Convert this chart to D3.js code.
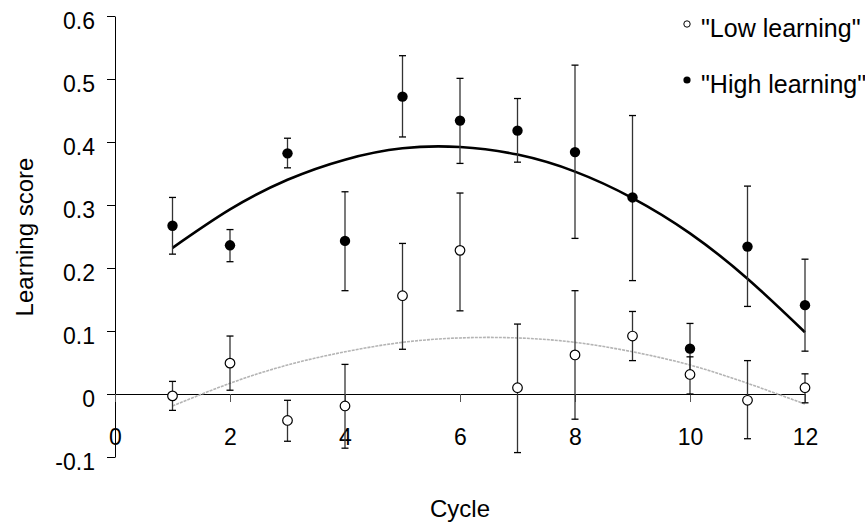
<!DOCTYPE html>
<html>
<head>
<meta charset="utf-8">
<script src="https://cdn.jsdelivr.net/npm/d3@7"></script>
<style>
  body { margin: 0; background: #fff; }
  text { font-family: "Liberation Sans", Arial, sans-serif; fill: #000; }
</style>
</head>
<body>
<svg width="865" height="522"></svg>
<script>
'use strict';

const cycles = [1, 2, 3, 4, 5, 6, 7, 8, 9, 10, 11, 12];

// "High learning" group: means and error bar ends
const high_mean = [0.267, 0.236, 0.382, 0.243, 0.472, 0.434, 0.418, 0.384, 0.312, 0.072, 0.234, 0.141];
const high_upper = [0.312, 0.261, 0.406, 0.321, 0.537, 0.501, 0.469, 0.522, 0.442, 0.112, 0.330, 0.214];
const high_lower = [0.222, 0.210, 0.359, 0.164, 0.408, 0.366, 0.368, 0.247, 0.180, 0.032, 0.139, 0.068];

// "Low learning" group
const low_mean = [-0.003, 0.049, -0.042, -0.019, 0.156, 0.228, 0.010, 0.062, 0.092, 0.031, -0.010, 0.010];
const low_upper = [0.020, 0.092, -0.010, 0.047, 0.239, 0.319, 0.111, 0.164, 0.131, 0.059, 0.053, 0.032];
const low_lower = [-0.026, 0.006, -0.075, -0.086, 0.071, 0.132, -0.093, -0.040, 0.053, 0.000, -0.071, -0.014];

// trend curves at each cycle
const high_fit = [0.232, 0.293, 0.340, 0.372, 0.390, 0.392, 0.380, 0.353, 0.311, 0.255, 0.183, 0.098];
const low_fit = [-0.019, 0.017, 0.046, 0.067, 0.082, 0.089, 0.089, 0.082, 0.067, 0.046, 0.017, -0.016];

const x_ticks = [0, 2, 4, 6, 8, 10, 12];
const y_ticks = [-0.1, 0, 0.1, 0.2, 0.3, 0.4, 0.5, 0.6];

const series_names = ['"Low learning"', '"High learning"'];

const svg = d3.select('svg');

const x = d3.scaleLinear().domain([0, 12]).range([115, 805]);
const y = d3.scaleLinear().domain([-0.1, 0.6]).range([457, 16]);

// y axis
const y_axis = svg.append('g')
  .attr('transform', `translate(${x(0)},0)`)
  .call(d3.axisLeft(y).tickValues(y_ticks).tickSize(8).tickSizeOuter(0)
    .tickFormat(d => d === 0 ? '0' : String(d)));
y_axis.select('.domain').attr('stroke', '#000');
y_axis.selectAll('.tick line').attr('stroke', '#000');
y_axis.selectAll('.tick text')
  .attr('x', -20)
  .attr('dy', 12)
  .style('font-size', '23px')
  .style('font-family', '"Liberation Sans", Arial, sans-serif');

// x axis sits on zero
const x_axis = svg.append('g')
  .attr('transform', `translate(0,${y(0)})`)
  .call(d3.axisBottom(x).tickValues(x_ticks).tickSize(8).tickSizeOuter(0));
x_axis.select('.domain').attr('stroke', '#000');
x_axis.selectAll('.tick line').attr('stroke', '#555');
x_axis.selectAll('.tick text')
  .attr('y', 51)
  .attr('dy', null)
  .style('font-size', '23px')
  .style('font-family', '"Liberation Sans", Arial, sans-serif');

// axis titles
svg.append('text')
  .attr('x', 460).attr('y', 517)
  .attr('text-anchor', 'middle')
  .style('font-size', '24px')
  .text('Cycle');

svg.append('text')
  .attr('transform', 'translate(33,237) rotate(-90)')
  .attr('text-anchor', 'middle')
  .style('font-size', '24px')
  .text('Learning score');

// trend curves
const line = d3.line()
  .x((d, i) => x(cycles[i]))
  .y(d => y(d))
  .curve(d3.curveNatural);

svg.append('path')
  .datum(low_fit)
  .attr('d', line)
  .attr('fill', 'none')
  .attr('stroke', '#b4b4b4')
  .attr('stroke-width', 1.6)
  .attr('stroke-dasharray', '3,1');

svg.append('path')
  .datum(high_fit)
  .attr('d', line)
  .attr('fill', 'none')
  .attr('stroke', '#000')
  .attr('stroke-width', 2.6);

function draw_errors(lower, upper) {
  const g = svg.append('g').attr('stroke', '#333').attr('stroke-width', 1.3);
  cycles.forEach((c, i) => {
    const cx = x(c);
    g.append('line')
      .attr('x1', cx).attr('x2', cx)
      .attr('y1', y(lower[i])).attr('y2', y(upper[i]));
    for (const v of [lower[i], upper[i]]) {
      g.append('line')
        .attr('x1', cx - 3.5).attr('x2', cx + 3.5)
        .attr('y1', y(v)).attr('y2', y(v))
        .attr('stroke', '#000');
    }
  });
}

draw_errors(high_lower, high_upper);
draw_errors(low_lower, low_upper);

function draw_points(values, filled) {
  svg.append('g').selectAll('circle')
    .data(values)
    .join('circle')
    .attr('cx', (d, i) => x(cycles[i]))
    .attr('cy', d => y(d))
    .attr('r', filled ? 5.2 : 4.8)
    .attr('fill', filled ? '#000' : '#fff')
    .attr('stroke', '#000')
    .attr('stroke-width', filled ? 0 : 1.2);
}

draw_points(high_mean, true);
draw_points(low_mean, false);

// legend
const legend = svg.append('g');
series_names.forEach((name, i) => {
  const ly = 24 + i * 56;
  legend.append('circle')
    .attr('cx', 687).attr('cy', ly)
    .attr('r', i === 0 ? 3.2 : 3.6)
    .attr('fill', i === 0 ? '#fff' : '#000')
    .attr('stroke', '#000')
    .attr('stroke-width', i === 0 ? 1 : 0);
  legend.append('text')
    .attr('x', 701).attr('y', ly + 12.5)
    .style('font-size', '25px')
    .text(name);
});
</script>
</body>
</html>
